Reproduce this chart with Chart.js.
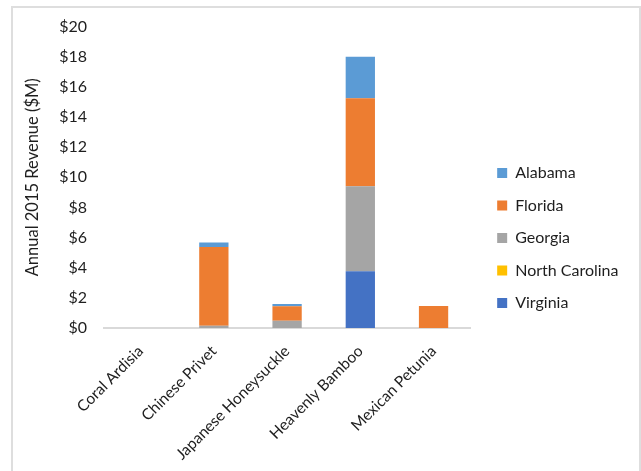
<!DOCTYPE html>
<html>
<head>
<meta charset="utf-8">
<script src="https://cdn.jsdelivr.net/npm/chart.js@4.4.1/dist/chart.umd.min.js"></script>
<style>
  html, body { margin: 0; padding: 0; background: #ffffff; overflow: hidden; }
  #frame {
    position: absolute; left: 11px; top: 6px; width: 630px; height: 480px;
    box-sizing: border-box; border: 2px solid #dedede; border-bottom: none;
  }
  #chart { position: absolute; left: 0; top: 0; }
</style>
</head>
<body>
<div id="frame"></div>
<canvas id="chart" width="641" height="471"></canvas>
<script>
// Invasive plant sales, 2015 revenue by state ($ millions)
const categories = ['Coral Ardisia', 'Chinese Privet', 'Japanese Honeysuckle', 'Heavenly Bamboo', 'Mexican Petunia'];
const virginia      = [0, 0,    0,    3.77, 0];
const northCarolina = [0, 0,    0,    0,    0];
const georgia       = [0, 0.15, 0.48, 5.63, 0];
const florida       = [0, 5.23, 0.96, 5.85, 1.46];
const alabama       = [0, 0.30, 0.15, 2.75, 0];
const yTicks = [0, 2, 4, 6, 8, 10, 12, 14, 16, 18, 20];

const FONT = 'Lato, "Noto Sans", sans-serif';
const TEXT = '#1e1e1e';

const series = [
  { label: 'Virginia',       data: virginia,      color: '#4472C4' },
  { label: 'North Carolina', data: northCarolina, color: '#FFC000' },
  { label: 'Georgia',        data: georgia,       color: '#A5A5A5' },
  { label: 'Florida',        data: florida,       color: '#ED7D31' },
  { label: 'Alabama',        data: alabama,       color: '#5B9BD5' }
];

new Chart(document.getElementById('chart'), {
  type: 'bar',
  data: {
    labels: categories,
    datasets: series.map(s => ({
      label: s.label,
      data: s.data,
      backgroundColor: s.color,
      borderWidth: 0,
      categoryPercentage: 1,
      barPercentage: 0.4
    }))
  },
  options: {
    responsive: false,
    animation: false,
    layout: { padding: { top: 18, right: 12.5, bottom: 13, left: 20 } },
    plugins: {
      legend: {
        position: 'right',
        reverse: true,
        maxWidth: 300,
        labels: {
          boxWidth: 10,
          boxHeight: 10,
          padding: 16.5,
          color: TEXT,
          font: { family: FONT, size: 16 }
        }
      },
      tooltip: { enabled: false }
    },
    scales: {
      x: {
        stacked: true,
        grid: { display: false, drawTicks: false },
        border: { display: true, color: '#d9d9d9', width: 2 },
        ticks: {
          color: TEXT,
          font: { family: FONT, size: 15.5 },
          maxRotation: 45,
          minRotation: 45,
          padding: 14
        },
        afterFit: s => {
          s.height = 130;
          // let the long rotated labels run past the axis box without being cut
          s._computeLabelArea = () => undefined;
        }
      },
      y: {
        stacked: true,
        min: 0,
        max: 20,
        grid: { display: false, drawTicks: false },
        border: { display: false },
        afterBuildTicks: s => { s.ticks = yTicks.map(v => ({ value: v })); },
        ticks: {
          color: TEXT,
          font: { family: FONT, size: 16 },
          padding: 17,
          callback: v => '$' + v
        },
        title: {
          display: true,
          text: 'Annual 2015 Revenue ($M)',
          color: TEXT,
          font: { family: FONT, size: 16.5 },
          padding: { top: 3, bottom: 0 }
        },
        afterFit: s => { s.width = 84; }
      },
      gap: {
        type: 'linear',
        position: 'right',
        display: true,
        grid: { display: false, drawTicks: false },
        border: { display: false },
        ticks: { display: false },
        afterFit: s => { s.width = 10.5; }
      }
    }
  }
});
</script>
</body>
</html>
